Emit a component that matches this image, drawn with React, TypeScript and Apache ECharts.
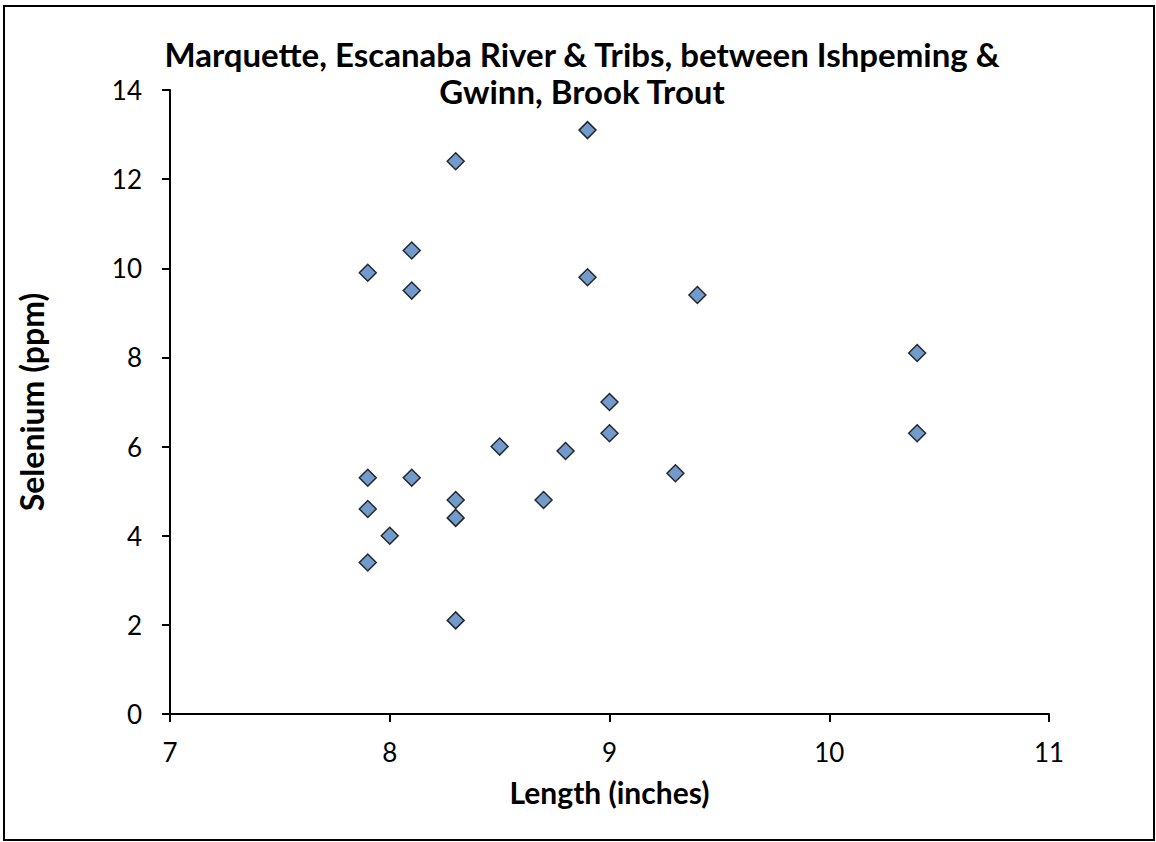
import React, { useEffect, useRef } from "react";
import * as echarts from "echarts";

const lengthInches: number[] = [
  7.9, 7.9, 7.9, 7.9, 8.0, 8.1, 8.1, 8.1, 8.3, 8.3, 8.3, 8.3, 8.5, 8.7, 8.8,
  8.9, 8.9, 9.0, 9.0, 9.3, 9.4, 10.4, 10.4,
];
const seleniumPpm: number[] = [
  9.9, 5.3, 4.6, 3.4, 4.0, 10.4, 9.5, 5.3, 12.4, 4.8, 4.4, 2.1, 6.0, 4.8, 5.9,
  13.1, 9.8, 7.0, 6.3, 5.4, 9.4, 8.1, 6.3,
];

const titleText = "Marquette, Escanaba River & Tribs, between Ishpeming &\nGwinn, Brook Trout";
const xName = "Length (inches)";
const yName = "Selenium (ppm)";

const FONT = "Lato, 'Noto Sans', sans-serif";

export default function App() {
  const ref = useRef<HTMLDivElement>(null);
  useEffect(() => {
    if (!ref.current) return;
    const chart = echarts.init(ref.current, null, { renderer: "svg" });
    const data = lengthInches.map((x, i) => [x, seleniumPpm[i]]);
    chart.setOption({
      animation: false,
      backgroundColor: "#ffffff",
      textStyle: { fontFamily: FONT },
      title: {
        text: titleText,
        left: 582,
        textAlign: "center",
        top: 35,
        padding: 0,
        textStyle: {
          fontFamily: FONT,
          fontSize: 33,
          fontWeight: "bold",
          color: "#000",
          lineHeight: 37,
        },
      },
      grid: { left: 170, right: 107, top: 90, bottom: 128, containLabel: false },
      xAxis: {
        type: "value",
        min: 7,
        max: 11,
        interval: 1,
        name: xName,
        nameLocation: "middle",
        nameGap: 63,
        nameTextStyle: { fontFamily: FONT, fontSize: 30, fontWeight: "bold", color: "#000" },
        axisLine: { show: true, onZero: false, lineStyle: { color: "#000", width: 2 } },
        axisTick: { show: true, inside: false, length: 8, lineStyle: { color: "#000", width: 2 } },
        axisLabel: { margin: 25, fontSize: 26, color: "#000", fontFamily: FONT },
        splitLine: { show: false },
      },
      yAxis: {
        type: "value",
        min: 0,
        max: 14,
        interval: 2,
        name: yName,
        nameLocation: "middle",
        nameGap: 123,
        nameRotate: 90,
        nameTextStyle: { fontFamily: FONT, fontSize: 32, fontWeight: "bold", color: "#000" },
        axisLine: { show: true, onZero: false, lineStyle: { color: "#000", width: 2 } },
        axisTick: { show: true, inside: false, length: 8, lineStyle: { color: "#000", width: 2 } },
        axisLabel: { margin: 28, fontSize: 26, color: "#000", fontFamily: FONT },
        splitLine: { show: false },
      },
      graphic: [
        {
          type: "rect",
          shape: { x: 4, y: 6, width: 1150, height: 834 },
          style: { fill: "none", stroke: "#000", lineWidth: 2 },
          silent: true,
          z: -1,
        },
      ],
      series: [
        {
          type: "scatter",
          data,
          symbol: "diamond",
          symbolSize: 17,
          itemStyle: { color: "#4F81BD", borderColor: "#000", borderWidth: 1.5 },
        },
      ],
    });
    return () => chart.dispose();
  }, []);
  return (
    <div
      ref={ref}
      style={{ position: "fixed", left: 0, top: 0, width: 1156, height: 842 }}
    />
  );
}
